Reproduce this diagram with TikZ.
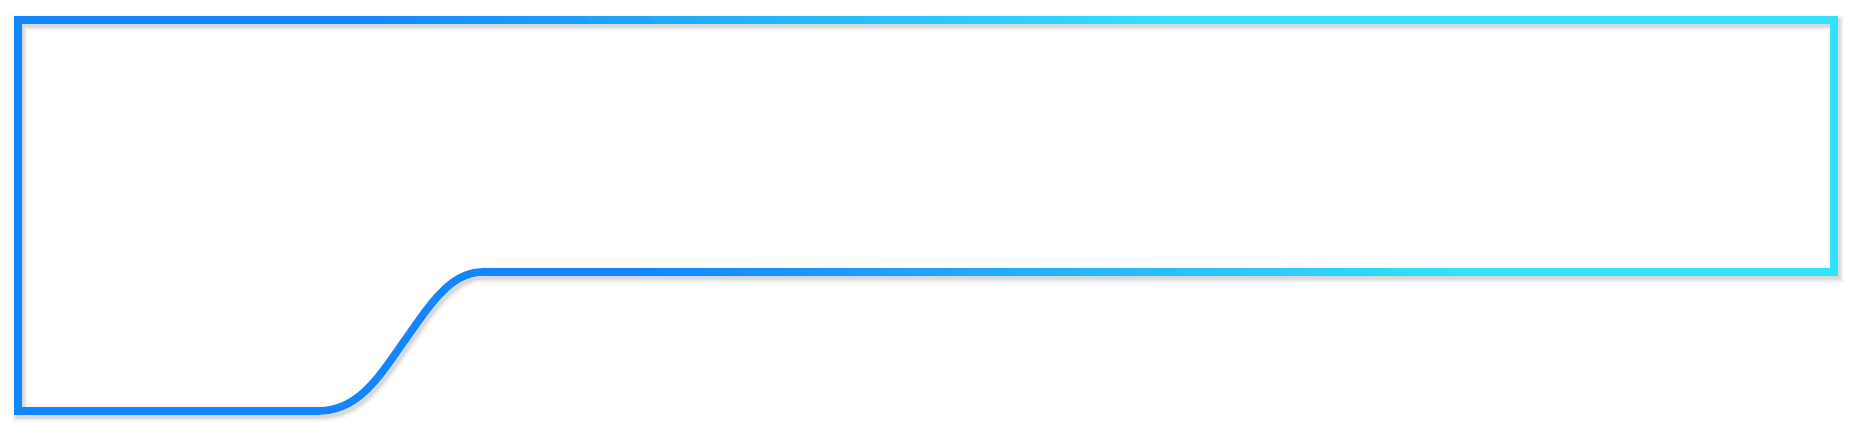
\documentclass[tikz,border=0pt]{standalone}
\definecolor{blueend}{RGB}{18,133,255}
\definecolor{cyanend}{RGB}{51,225,255}
\tikzset{
 framepath/.style={insert path={(18,20) -- (1834,20) -- (1834,272) -- (483,272) .. controls (450,272) and (430,305) .. (405,340) .. controls (380,375) and (360,411) .. (317,411) -- (18,411) -- cycle}},
 framestroke/.style={line width=3.8pt, line join=miter},
}
\begin{document}
\begin{tikzpicture}[x=0.5pt,y=-0.5pt]
\useasboundingbox (0,0) rectangle (1851,438);
\foreach \w/\o in {8/0.03, 6/0.05, 4.5/0.07}{
  \draw[black, opacity=\o, line width=\w pt, shift={(2,3)}, framepath];
}
\draw[framestroke, blueend, framepath];
\foreach \i in {0,...,40}{
  \pgfmathsetmacro\tz{\i/40}
  \pgfmathsetmacro\xa{(\tz+0.3774-0.143)/0.0012}
  \pgfmathsetmacro\xb{(\tz+0.3774+0.7722)/0.0012}
  \pgfmathsetmacro\p{min(100,(\i+0.5)*2.5)}
  \begin{scope}
    \clip (\xa,-100) -- (3000,-100) -- (3000,540) -- (\xb,540) -- cycle;
    \draw[framestroke, color=cyanend!\p!blueend, framepath];
  \end{scope}
}
\end{tikzpicture}
\end{document}
